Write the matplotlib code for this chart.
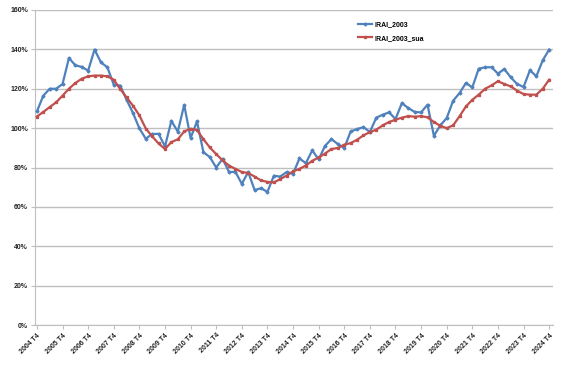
import matplotlib
matplotlib.use("Agg")
import matplotlib.pyplot as plt
from matplotlib.ticker import FuncFormatter

years = list(range(2004, 2025))
tick_labels = [f"{y} T4" for y in years]

irai_2003 = [108.5, 116.5, 120.0, 120.0, 122.4, 135.6, 131.9, 131.1, 129.2, 139.9,
             133.4, 130.9, 122.1, 121.6, 114.4, 107.7, 99.9, 94.6, 97.0, 97.1,
             90.7, 103.7, 98.2, 111.8, 95.0, 103.4, 87.8, 85.3, 80.0, 84.4,
             77.7, 77.8, 71.7, 77.7, 68.5, 69.5, 67.6, 75.8, 75.4, 77.7,
             76.8, 84.6, 82.2, 88.7, 84.1, 91.0, 94.4, 91.9, 89.9, 98.3,
             99.5, 100.5, 98.0, 105.3, 106.8, 108.0, 104.6, 112.7, 110.2, 108.2,
             108.0, 111.9, 96.1, 101.4, 105.1, 113.9, 117.8, 122.9, 120.7, 130.2,
             130.9, 130.9, 127.7, 130.0, 125.8, 122.4, 120.9, 129.4, 126.3, 134.5,
             139.9]
irai_2003_sua = [105.9, 108.2, 110.7, 113.1, 116.5, 120.0, 122.9, 125.1, 126.3, 126.7,
                 126.7, 126.3, 124.6, 119.9, 115.6, 111.4, 106.5, 99.8, 95.8, 92.2,
                 89.4, 92.9, 94.3, 98.3, 99.7, 99.0, 94.4, 90.2, 86.8, 83.6,
                 81.0, 79.3, 77.7, 77.2, 75.4, 73.4, 72.7, 72.4, 74.1, 75.9,
                 78.0, 79.3, 81.0, 83.4, 85.1, 87.1, 89.4, 89.9, 91.6, 92.4,
                 94.1, 96.3, 98.0, 99.2, 101.4, 103.1, 104.3, 105.3, 106.1, 105.8,
                 106.1, 105.5, 103.1, 101.2, 100.0, 101.4, 106.0, 111.0, 114.4, 117.0,
                 120.0, 121.7, 123.8, 122.4, 121.2, 119.0, 117.3, 117.0, 117.0, 120.0,
                 124.6]

x = list(range(len(irai_2003)))

fig = plt.figure(figsize=(5.67, 3.66), dpi=100)
ax = fig.add_axes([35/567, 41/366, 518/567, 315/366])

ax.plot(x, irai_2003, color="#4F81BD", lw=1.6, marker="D", ms=1.5,
        label="IRAI_2003", zorder=3)
ax.plot(x, irai_2003_sua, color="#C0504D", lw=1.6, marker="s", ms=1.4,
        label="IRAI_2003_sua", zorder=4)

ax.set_ylim(0, 160)
ax.set_yticks(range(0, 161, 20))
ax.yaxis.set_major_formatter(FuncFormatter(lambda v, p: f"{int(v)}%"))
ax.set_xlim(-0.3, 80.6)
ax.set_xticks(range(0, 81, 4))
ax.set_xticklabels(tick_labels, rotation=45, ha="right", rotation_mode="anchor")

for lbl in ax.get_xticklabels() + ax.get_yticklabels():
    lbl.set_fontsize(5)
    lbl.set_fontweight("bold")
    lbl.set_fontfamily("Liberation Sans")
    lbl.set_color("#222222")

ax.grid(axis="y", color="#BFBFBF", lw=1.0)
ax.set_axisbelow(True)
for s in ["top", "right"]:
    ax.spines[s].set_visible(False)
ax.spines["left"].set_color("#BFBFBF")
ax.spines["bottom"].set_color("#BFBFBF")
ax.tick_params(axis="both", length=3, color="#BFBFBF", pad=2)

leg = ax.legend(loc="upper left", bbox_to_anchor=(0.612, 0.985), frameon=False,
                prop={"family": "Liberation Sans", "weight": "bold", "size": 5},
                handlelength=2.0, labelspacing=1.0, handletextpad=0.3)

fig.savefig("out.png", dpi=100)
